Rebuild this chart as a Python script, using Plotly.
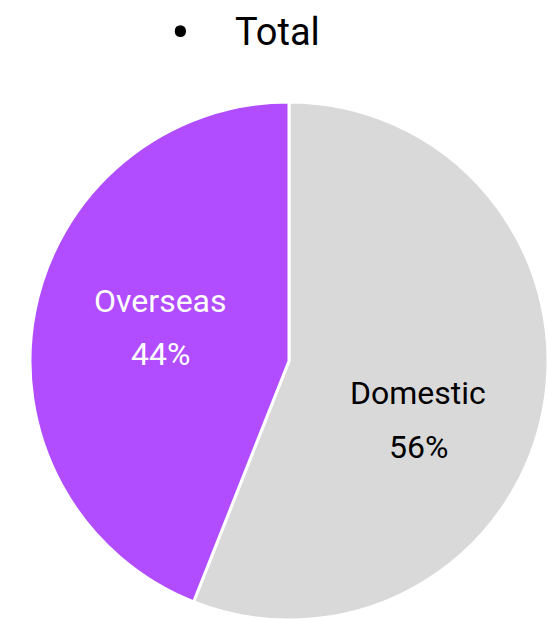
import plotly.graph_objects as go

categories = ["Domestic", "Overseas"]
values = [56, 44]
colors = ["#d9d9d9", "#b14cff"]
label_colors = ["#000000", "#ffffff"]
title_text = "Total"

W, H = 548, 620
cx, cy, r = 289, 361, 259

fig = go.Figure(go.Pie(
    labels=categories,
    values=values,
    sort=False,
    direction="clockwise",
    rotation=0,
    marker=dict(colors=colors, line=dict(color="#ffffff", width=3)),
    textinfo="none",
    hoverinfo="label+percent",
    showlegend=False,
    domain=dict(x=[(cx - r) / W, (cx + r) / W], y=[max(0, 1 - (cy + r) / H), 1 - (cy - r) / H]),
))

def px(x, y):
    return x / W, 1 - y / H

total = sum(values)
label_pos = {"Domestic": ((418, 393), (418, 447)), "Overseas": ((160, 301), (160, 354))}
font = "Roboto"
annotations = []
for cat, val, col in zip(categories, values, label_colors):
    (lx, ly), (vx, vy) = label_pos[cat]
    for (x, y), txt in (((lx, ly), cat), ((vx, vy), f"{round(100 * val / total)}%")):
        ax, ay = px(x, y)
        annotations.append(dict(x=ax, y=ay, xref="paper", yref="paper", text=txt,
                                showarrow=False, xanchor="center", yanchor="middle",
                                font=dict(family=font, size=32, color=col)))

bx, by = px(180, 33)
annotations.append(dict(x=bx, y=by, xref="paper", yref="paper", text="•", showarrow=False,
                        xanchor="center", yanchor="middle", font=dict(family=font, size=56, color="#000")))
tx, ty = px(233, 32)
annotations.append(dict(x=tx, y=ty, xref="paper", yref="paper", text=title_text, showarrow=False,
                        xanchor="left", yanchor="middle", font=dict(family=font, size=38, color="#000")))

fig.update_layout(width=W, height=H, margin=dict(l=0, r=0, t=0, b=0),
                  paper_bgcolor="#ffffff", plot_bgcolor="#ffffff", annotations=annotations)
fig.write_html("out.html", config={"displayModeBar": False},
               post_script="document.body.style.margin='0';")
